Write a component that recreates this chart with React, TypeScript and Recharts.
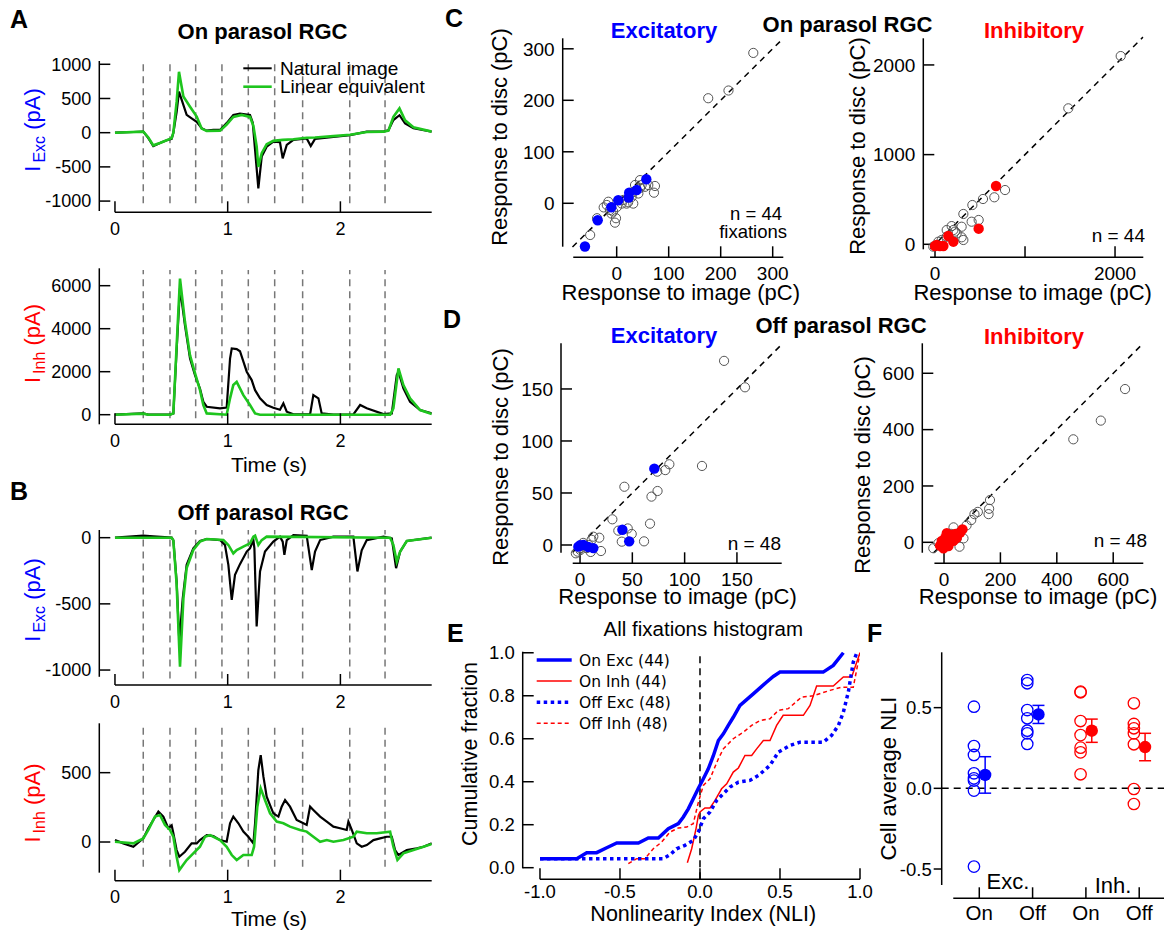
import React from 'react';
import { ComposedChart, Line, Scatter, XAxis, YAxis, ReferenceLine, ErrorBar } from 'recharts';

const W = 1164;
const H = 930;
const FONT = '"Liberation Sans", Arial, Helvetica, sans-serif';
const BLUE = '#0000ff';
const RED = '#ff0000';
const GREEN = '#1ec51e';
const GRAY = '#555555';

type Pt = [number, number];

// ---------- Panels A/B: time traces (t in s, current in pA) ----------
const fixationTimes = [0.251, 0.488, 0.716, 0.949, 1.183, 1.417, 1.665, 2.083, 2.396];
const timeTicks = [0, 1, 2];

const onExcNatural: Pt[] = [
  [0, 0], [0.163, 10], [0.251, 15], [0.296, -80], [0.34, -195], [0.399, -150], [0.459, -110], [0.503, -90],
  [0.518, 0], [0.547, 300], [0.568, 600], [0.592, 480], [0.636, 260], [0.68, 210], [0.725, 160], [0.769, 65],
  [0.814, 30], [0.873, 40], [0.932, 40], [0.991, 140], [1.05, 260], [1.109, 280], [1.198, 260], [1.222, 150],
  [1.243, -250], [1.272, -815], [1.302, -350], [1.346, -205], [1.405, -130], [1.464, -140], [1.488, -375],
  [1.524, -180], [1.583, -105], [1.701, -85], [1.737, -195], [1.775, -90], [1.938, -60], [2.086, -35],
  [2.234, 15], [2.382, 15], [2.426, 35], [2.47, 185], [2.524, 255], [2.574, 135], [2.648, 65], [2.811, 15],
];
const onExcLinear: Pt[] = [
  [0, 0], [0.251, 15], [0.296, -70], [0.34, -185], [0.399, -150], [0.459, -110], [0.503, -80], [0.518, 0],
  [0.547, 450], [0.568, 890], [0.607, 530], [0.666, 380], [0.725, 235], [0.769, 60], [0.814, 25], [0.932, 30],
  [0.991, 120], [1.05, 230], [1.124, 260], [1.198, 230], [1.228, 100], [1.257, -200], [1.272, -500],
  [1.302, -300], [1.346, -170], [1.405, -120], [1.488, -105], [1.583, -95], [1.701, -75], [1.775, -70],
  [1.938, -50], [2.086, -30], [2.234, 10], [2.382, 15], [2.426, 30], [2.47, 230], [2.524, 355], [2.574, 180],
  [2.648, 80], [2.811, 15],
];
const onInhNatural: Pt[] = [
  [0, 0], [0.251, 60], [0.296, 0], [0.488, 0], [0.518, 60], [0.547, 3000], [0.577, 5900], [0.621, 4160],
  [0.666, 2610], [0.71, 1840], [0.754, 1220], [0.784, 600], [0.814, 370], [0.932, 290], [0.991, 330],
  [1.021, 2610], [1.036, 3080], [1.08, 3050], [1.109, 2950], [1.169, 2000], [1.213, 1610], [1.243, 1140],
  [1.287, 760], [1.346, 450], [1.405, 325], [1.464, 230], [1.494, 525], [1.524, 140], [1.583, 15],
  [1.731, 15], [1.76, 910], [1.805, 760], [1.834, 60], [1.938, 0], [2.115, 15], [2.175, 450], [2.234, 300],
  [2.382, 30], [2.456, 60], [2.5, 1840], [2.515, 2000], [2.559, 1220], [2.618, 600], [2.707, 215], [2.811, 60],
];
const onInhLinear: Pt[] = [
  [0, 0], [0.251, 50], [0.296, 0], [0.488, 0], [0.518, 60], [0.547, 3200], [0.577, 6330], [0.621, 4320],
  [0.666, 2760], [0.71, 1930], [0.754, 1150], [0.784, 450], [0.814, 60], [0.991, 0], [1.021, 760],
  [1.05, 1380], [1.08, 1530], [1.139, 910], [1.198, 450], [1.243, 60], [1.287, 0], [2.441, 0], [2.47, 300],
  [2.515, 2150], [2.559, 1380], [2.618, 760], [2.707, 215], [2.811, 30],
];
const offExcNatural: Pt[] = [
  [0, 0], [0.251, 15], [0.34, 10], [0.503, 0], [0.518, -20], [0.547, -330], [0.571, -790], [0.601, -460],
  [0.636, -205], [0.695, -80], [0.754, -25], [0.814, -10], [0.932, -18], [0.976, -55], [1.006, -205],
  [1.036, -470], [1.065, -280], [1.109, -200], [1.169, -105], [1.198, -80], [1.228, -18], [1.237, -80],
  [1.257, -670], [1.287, -255], [1.331, -105], [1.405, -30], [1.464, 8], [1.488, -30], [1.503, -130],
  [1.524, -18], [1.583, 20], [1.701, 15], [1.746, -245], [1.775, -105], [1.82, -18], [1.938, 8], [2.115, 8],
  [2.151, -255], [2.189, -95], [2.234, -18], [2.382, 8], [2.456, -5], [2.494, -230], [2.53, -105],
  [2.589, -25], [2.811, 0],
];
const offExcLinear: Pt[] = [
  [0, 0], [0.503, 0], [0.518, -20], [0.547, -350], [0.577, -975], [0.607, -460], [0.636, -230], [0.695, -93],
  [0.754, -30], [0.814, -10], [0.962, -18], [1.006, -55], [1.05, -118], [1.08, -93], [1.139, -68],
  [1.198, -43], [1.228, 8], [1.243, 15], [1.272, -55], [1.302, -18], [1.346, 8], [2.441, 0], [2.47, -55],
  [2.5, -181], [2.53, -105], [2.589, -25], [2.811, 0],
];
const offInhNatural: Pt[] = [
  [0, 14], [0.074, -10], [0.163, -34], [0.251, 26], [0.296, 99], [0.34, 159], [0.385, 219], [0.429, 183],
  [0.473, 99], [0.503, 120], [0.518, 63], [0.547, -58], [0.571, -106], [0.621, -70], [0.68, -10], [0.725, -10],
  [0.754, 14], [0.814, 50], [0.873, 43], [0.932, 14], [0.991, 2], [1.021, 135], [1.05, 183], [1.095, 135],
  [1.139, 75], [1.183, 38], [1.228, -10], [1.243, 135], [1.272, 519], [1.293, 627], [1.317, 471],
  [1.346, 327], [1.405, 207], [1.45, 183], [1.479, 255], [1.509, 303], [1.553, 255], [1.612, 159],
  [1.672, 135], [1.701, 123], [1.731, 255], [1.76, 231], [1.82, 183], [1.879, 147], [1.938, 111],
  [1.997, 99], [2.056, 87], [2.071, 147], [2.101, 87], [2.145, -10], [2.189, -34], [2.234, -22],
  [2.293, 14], [2.352, 26], [2.411, 38], [2.456, 38], [2.485, -58], [2.515, -94], [2.589, -58],
  [2.678, -46], [2.737, -34], [2.811, -10],
];
const offInhLinear: Pt[] = [
  [0, 2], [0.163, -10], [0.251, 26], [0.296, 87], [0.355, 183], [0.399, 195], [0.444, 123], [0.488, 87],
  [0.518, 38], [0.547, -106], [0.571, -202], [0.636, -130], [0.695, -82], [0.754, -34], [0.799, 38],
  [0.843, 50], [0.932, 14], [0.991, -34], [1.036, -94], [1.08, -130], [1.139, -94], [1.213, -94],
  [1.234, -34], [1.263, 255], [1.293, 387], [1.331, 303], [1.376, 207], [1.435, 147], [1.494, 135],
  [1.553, 111], [1.642, 87], [1.701, 75], [1.76, 38], [1.82, 2], [1.879, 14], [1.938, 2], [2.027, 14],
  [2.115, 38], [2.145, 75], [2.234, 63], [2.322, 63], [2.441, 75], [2.47, -34], [2.506, -130],
  [2.559, -82], [2.648, -58], [2.737, -34], [2.811, -14],
];

// ---------- Panels C/D: response to image (x) vs disc (y), pC ----------
const cExcOther: Pt[] = [
  [262.7, 292], [176, 204], [215, 219], [-51, -61.6], [-37.8, -29], [-1.3, -29], [-3.3, -37.6], [-19, -3.3],
  [-13, -13], [-6.7, -16], [-16, 3], [9.6, -0.6], [19, -0.6], [31.9, -0.6], [28.8, 12.3], [35.3, 35.5],
  [44.9, 45], [48, 35.5], [60.8, 35.5], [73.6, 33.6], [71.7, 20.6], [54.5, 32], [12.8, 6.5], [41.7, 19],
  [0.5, -7], [-10, -20], [22, 2], [32, 22], [45, 30], [-25, -8],
];
const cExcCell: Pt[] = [
  [-61, -84], [-36.5, -33], [-10.3, -7.8], [3, 5.8], [23, 11], [24, 20.6], [38.5, 25.8], [57, 46.6],
];
const cInhOther: Pt[] = [
  [2063, 2099], [1481, 1516], [778, 605], [659, 524], [533, 505], [415, 438], [315, 338], [407, 252],
  [485, 271], [296, 196], [185, 203], [204, 159], [130, 159], [241, 122], [296, 78], [315, 48], [130, 85],
  [37, 29], [-19, -26], [74, 48], [222, 141],
];
const cInhCell: Pt[] = [
  [678, 650], [485, 174], [204, 29], [148, 92], [93, -19], [18, -8], [55, -19], [0, -19],
];
const dExcOther: Pt[] = [
  [137.7, 177], [157.7, 151.6], [116.6, 76], [85.4, 77.6], [81.5, 72], [73.8, 70.5], [74.1, 51.9],
  [68.3, 46.5], [42.4, 56], [66.9, 20.5], [30.9, 24.7], [36.6, 13.8], [45.6, 15.9], [49.4, 10.6],
  [39.9, 3.2], [61.2, 3.5], [18.4, 7], [20, -5.8], [11.1, 5], [12.7, 8], [-2.3, -6.4], [0.3, -4.8],
  [10.2, -6.7], [6.4, -3], [0.2, -3], [-4, -8], [3, 2], [8, 0],
];
const dExcCell: Pt[] = [
  [71, 73.4], [40.5, 14.7], [47, 3.5], [0, -0.3], [3.2, 0], [8, -2], [12.7, -3], [-1.6, -1.6],
];
const dInhOther: Pt[] = [
  [642, 544], [556, 432], [458.5, 365.6], [163, 150], [160, 119], [158, 100], [120, 108], [108, 100],
  [96.5, 79], [33.7, 53], [69, 14], [54.9, -15.6], [-38, -21], [-20, -3], [15.6, 8.6], [45, 14], [25, 30],
  [80, 60],
];
const dInhCell: Pt[] = [
  [65.6, 46], [57.4, 35], [45.4, 16], [27.6, 26], [9.9, 32], [4, 16], [-8, 5], [-2, -21], [15.6, -13],
  [33.3, 5], [-14, -12], [20, 10], [40, 30],
];

// ---------- Panel E: cumulative NLI ----------
const eOnExc: Pt[] = [
  [-1.0, 0.042], [-0.77, 0.042], [-0.708, 0.07], [-0.646, 0.07], [-0.583, 0.093], [-0.52, 0.115],
  [-0.385, 0.115], [-0.323, 0.138], [-0.26, 0.138], [-0.198, 0.181], [-0.135, 0.205], [-0.104, 0.236],
  [-0.073, 0.274], [-0.042, 0.321], [-0.01, 0.37], [0.021, 0.414], [0.052, 0.46], [0.083, 0.52],
  [0.115, 0.592], [0.146, 0.623], [0.177, 0.662], [0.208, 0.7], [0.25, 0.755], [0.333, 0.809],
  [0.417, 0.864], [0.458, 0.89], [0.5, 0.91], [0.77, 0.91], [0.833, 0.941], [0.896, 1.0],
];
const eOnInh: Pt[] = [
  [-0.079, 0.023], [-0.052, 0.088], [-0.025, 0.181], [-0.01, 0.243], [0.0, 0.259], [0.031, 0.278],
  [0.0625, 0.278], [0.094, 0.313], [0.135, 0.367], [0.167, 0.39], [0.208, 0.445], [0.24, 0.464],
  [0.281, 0.522], [0.323, 0.522], [0.354, 0.553], [0.396, 0.592], [0.4375, 0.592], [0.479, 0.662],
  [0.52, 0.709], [0.646, 0.709], [0.6875, 0.755], [0.729, 0.845], [0.833, 0.845], [0.896, 0.887],
  [0.948, 0.887], [1.0, 1.0],
];
const eOffExc: Pt[] = [
  [-1.0, 0.042], [-0.229, 0.042], [-0.1875, 0.06], [-0.146, 0.088], [-0.094, 0.104], [-0.042, 0.127],
  [-0.01, 0.166], [0.021, 0.228], [0.0625, 0.259], [0.104, 0.313], [0.146, 0.344], [0.1875, 0.375],
  [0.24, 0.398], [0.3125, 0.406], [0.365, 0.429], [0.4375, 0.476], [0.49, 0.538], [0.5625, 0.569],
  [0.625, 0.584], [0.77, 0.584], [0.823, 0.616], [0.865, 0.662], [0.896, 0.724], [0.927, 0.817],
  [0.958, 0.957], [0.98, 1.0],
];
const eOffInh: Pt[] = [
  [-0.448, 0.019], [-0.396, 0.042], [-0.344, 0.042], [-0.292, 0.088], [-0.24, 0.119], [-0.1875, 0.166],
  [-0.135, 0.185], [-0.083, 0.189], [-0.042, 0.205], [-0.01, 0.305], [0.021, 0.383], [0.0625, 0.414],
  [0.115, 0.507], [0.146, 0.553], [0.208, 0.6], [0.271, 0.631], [0.323, 0.662], [0.375, 0.685],
  [0.4375, 0.693], [0.49, 0.732], [0.552, 0.74], [0.635, 0.794], [0.708, 0.8], [0.8125, 0.825],
  [0.885, 0.84], [0.958, 0.84], [1.0, 1.0],
];
const eTicks = [-1, -0.5, 0, 0.5, 1];
const eYTicks = [0, 0.2, 0.4, 0.6, 0.8, 1.0];

// ---------- Panel F: cell average NLI ----------
const fLabels = ['On', 'Off', 'On', 'Off'];
const fOnExcCells = [0.506, 0.262, 0.207, 0.093, 0.062, 0.048, -0.014, -0.485];
const fOffExcCells = [0.671, 0.651, 0.485, 0.434, 0.357, 0.341, 0.275];
const fOnInhCells = [0.599, 0.595, 0.417, 0.33, 0.252, 0.223, 0.087];
const fOffInhCells = [0.527, 0.399, 0.372, 0.341, 0.273, -0.004, -0.097];
const fMeans = [0.083, 0.458, 0.357, 0.256];
const fSem = [0.113, 0.056, 0.072, 0.085];
const CELL_DX = -0.1;
const MEAN_DX = 0.11;

// ---------- helpers ----------
const toXY = (a: Pt[]) => a.map(([x, y]) => ({ x, y }));
const ring = (r: number, color: string, sw: number) => (p: any) =>
  <circle cx={p.cx} cy={p.cy} r={r} fill="none" stroke={color} strokeWidth={sw} />;
const disc = (r: number, color: string) => (p: any) =>
  <circle cx={p.cx} cy={p.cy} r={r} fill={color} stroke="none" />;

type Box = { l: number; r: number; t: number; b: number };
type PlotProps = {
  box: Box;
  xd: [number, number];
  yd: [number, number];
  xv: [number, number];
  yv: [number, number];
  xt: number[];
  yt: number[];
  xf?: (v: number) => string;
  yf?: (v: number) => string;
  font: number;
  xFont?: number;
  xGap?: number;
  yOut?: boolean;
  children?: React.ReactNode;
};

function Plot(p: PlotProps) {
  const tickStyle = { fontSize: p.font, fontFamily: FONT, fill: '#000' };
  const xTickStyle = { fontSize: p.xFont ?? p.font, fontFamily: FONT, fill: '#000' };
  const gap = p.xGap ?? 9;
  return (
    <div style={{ position: 'absolute', left: 0, top: 0, width: W, height: H }}>
      <ComposedChart
        width={W}
        height={H}
        margin={{ left: p.box.l - 1, right: W - p.box.r, top: p.box.t, bottom: H - p.box.b - 1 }}
      >
        <XAxis
          type="number"
          dataKey="x"
          domain={p.xd}
          allowDataOverflow
          ticks={p.xt}
          interval={0}
          tickFormatter={p.xf ?? ((v: number) => String(v))}
          height={1}
          axisLine={false}
          stroke="#000"
          tickLine={{ stroke: '#000', strokeWidth: 1.5 }}
          tickSize={-11}
          tickMargin={11 + gap}
          tick={xTickStyle}
        />
        <YAxis
          type="number"
          dataKey="y"
          domain={p.yd}
          allowDataOverflow
          ticks={p.yt}
          interval={0}
          tickFormatter={p.yf ?? ((v: number) => String(v))}
          width={1}
          axisLine={false}
          stroke="#000"
          tickLine={{ stroke: '#000', strokeWidth: 1.5 }}
          tickSize={p.yOut ? 8 : -11}
          tickMargin={p.yOut ? 2 : 19}
          tick={tickStyle}
        />
        <ReferenceLine
          segment={[{ x: p.xv[0], y: p.yd[0] }, { x: p.xv[1], y: p.yd[0] }]}
          stroke="#000"
          strokeWidth={1.5}
          ifOverflow="visible"
        />
        <ReferenceLine
          segment={[{ x: p.xd[0], y: p.yv[0] }, { x: p.xd[0], y: p.yv[1] }]}
          stroke="#000"
          strokeWidth={1.5}
          ifOverflow="visible"
        />
        {p.children}
      </ComposedChart>
    </div>
  );
}

function fixLines(lo: number, hi: number) {
  return fixationTimes.map((t) => (
    <ReferenceLine
      key={'f' + t}
      segment={[{ x: t, y: lo }, { x: t, y: hi }]}
      stroke="#777"
      strokeWidth={1.5}
      strokeDasharray="7 5"
      ifOverflow="visible"
    />
  ));
}

function traceLines(nat: Pt[], lin: Pt[]) {
  return [
    <Line key="nat" data={toXY(nat)} dataKey="y" type="linear" stroke="#000" strokeWidth={2.2}
      dot={false} activeDot={false} isAnimationActive={false} />,
    <Line key="lin" data={toXY(lin)} dataKey="y" type="linear" stroke={GREEN} strokeWidth={2.6}
      dot={false} activeDot={false} isAnimationActive={false} />,
  ];
}

function diag(lo: number, hi: number) {
  return (
    <ReferenceLine
      key="diag"
      segment={[{ x: lo, y: lo }, { x: hi, y: hi }]}
      stroke="#000"
      strokeWidth={1.5}
      strokeDasharray="6 5"
      ifOverflow="visible"
    />
  );
}

function scatterPair(other: Pt[], cell: Pt[], color: string) {
  return [
    <Scatter key="o" data={toXY(other)} shape={ring(4.6, GRAY, 1)} isAnimationActive={false} />,
    <Scatter key="c" data={toXY(cell)} shape={disc(5.2, color)} isAnimationActive={false} />,
  ];
}

const AB_BOX_X = { l: 99.3, r: 431.7 };
const AB_XD: [number, number] = [-0.139, 2.81];
const AB_XV: [number, number] = [0, 2.81];

function ILabel({ x, y, sub, color }: { x: number; y: number; sub: string; color: string }) {
  return (
    <text transform={`translate(${x},${y}) rotate(-90)`} textAnchor="middle" fill={color} fontSize={22} fontFamily={FONT}>
      <tspan>I</tspan>
      <tspan fontSize={16} dx={3} dy={5}>{sub}</tspan>
      <tspan dy={-5}> (pA)</tspan>
    </text>
  );
}

function T(props: any) {
  const { children, ...rest } = props;
  return (
    <text fontFamily={FONT} fill="#000" {...rest}>
      {children}
    </text>
  );
}

function RotT({ x, y, size, children }: { x: number; y: number; size: number; children: React.ReactNode }) {
  return (
    <text transform={`translate(${x},${y}) rotate(-90)`} textAnchor="middle" fontSize={size} fontFamily={FONT} fill="#000">
      {children}
    </text>
  );
}

export default function App() {
  const fCells = [fOnExcCells, fOffExcCells, fOnInhCells, fOffInhCells];
  const fColors = [BLUE, BLUE, RED, RED];
  const fOpen = fCells.map((cells, i) => cells.map((y) => ({ x: i + CELL_DX, y })));
  const fMeanPts = fMeans.map((y, i) => ({ x: i + MEAN_DX, y, e: fSem[i] }));
  const fmt1 = (v: number) => v.toFixed(1);

  return (
    <div style={{ position: 'absolute', left: 0, top: 0, width: W, height: H, background: '#fff', overflow: 'hidden' }}>
      {/* A top: On Exc */}
      <Plot box={{ ...AB_BOX_X, t: 61, b: 212.3 }} xd={AB_XD} yd={[-1164, 1048]} xv={AB_XV} yv={[-1145, 1048]}
        xt={timeTicks} yt={[-1000, -500, 0, 500, 1000]} font={18} xGap={10}>
        {fixLines(-1030, 1050)}
        {traceLines(onExcNatural, onExcLinear)}
      </Plot>
      {/* A bottom: On Inh */}
      <Plot box={{ ...AB_BOX_X, t: 268.3, b: 424.3 }} xd={AB_XD} yd={[-447, 6809]} xv={AB_XV} yv={[-447, 6809]}
        xt={timeTicks} yt={[0, 2000, 4000, 6000]} font={18} xGap={10}>
        {fixLines(-170, 6730)}
        {traceLines(onInhNatural, onInhLinear)}
      </Plot>
      {/* B top: Off Exc */}
      <Plot box={{ ...AB_BOX_X, t: 530, b: 685 }} xd={AB_XD} yd={[-1113, 58]} xv={AB_XV} yv={[-1051, 58]}
        xt={timeTicks} yt={[-1000, -500, 0]} font={18} xGap={10}>
        {fixLines(-1063, 58)}
        {traceLines(offExcNatural, offExcLinear)}
      </Plot>
      {/* B bottom: Off Inh */}
      <Plot box={{ ...AB_BOX_X, t: 723.3, b: 880.7 }} xd={AB_XD} yd={[-279, 856]} xv={AB_XV} yv={[-221, 856]}
        xt={timeTicks} yt={[0, 500]} font={18} xGap={10}>
        {fixLines(-178, 856)}
        {traceLines(offInhNatural, offInhLinear)}
      </Plot>

      {/* C left */}
      <Plot box={{ l: 562.7, r: 783.3, t: 38.3, b: 257.3 }} xd={[-103.8, 320.4]} yd={[-104.9, 320.4]}
        xv={[-83.5, 320.4]} yv={[-84.3, 320.4]} xt={[0, 100, 200, 300]} yt={[0, 100, 200, 300]} font={19}>
        {diag(-85, 320)}
        {scatterPair(cExcOther, cExcCell, BLUE)}
      </Plot>
      {/* C right */}
      <Plot box={{ l: 923.3, r: 1143.3, t: 38.3, b: 257.3 }} xd={[-130, 2314]} yd={[-145, 2297]}
        xv={[-55, 2314]} yv={[-56, 2297]} xt={[0, 1000, 2000]} yt={[0, 1000, 2000]}
        xf={(v: number) => (v === 1000 ? '' : String(v))} font={19}>
        {diag(-50, 2310)}
        {scatterPair(cInhOther, cInhCell, RED)}
      </Plot>
      {/* D left */}
      <Plot box={{ l: 561, r: 781.7, t: 343.3, b: 563.3 }} xd={[-18.2, 192.8]} yd={[-17.6, 193.9]}
        xv={[-7, 192.8]} yv={[-7.4, 193.9]} xt={[0, 50, 100, 150]} yt={[0, 50, 100, 150]} font={19}>
        {diag(-7, 193)}
        {scatterPair(dExcOther, dExcCell, BLUE)}
      </Plot>
      {/* D right */}
      <Plot box={{ l: 922.3, r: 1143.3, t: 343.3, b: 563.3 }} xd={[-77, 706.7]} yd={[-74.5, 706.4]}
        xv={[-34, 706.7]} yv={[-37, 706.4]} xt={[0, 200, 400, 600]} yt={[0, 200, 400, 600]} font={19}>
        {diag(-37, 706)}
        {scatterPair(dInhOther, dInhCell, RED)}
      </Plot>

      {/* E */}
      <Plot box={{ l: 522.7, r: 860, t: 651.7, b: 879.3 }} xd={[-1.108, 1.0]} yd={[-0.054, 1.005]}
        xv={[-1, 1]} yv={[-0.003, 1.005]} xt={eTicks} yt={eYTicks} xf={fmt1} yf={fmt1} font={18.5} xGap={6}>
        <ReferenceLine segment={[{ x: 0, y: -0.054 }, { x: 0, y: 0.99 }]} stroke="#000" strokeWidth={1.5}
          strokeDasharray="7 5" ifOverflow="visible" />
        <Line data={toXY(eOnExc)} dataKey="y" stroke={BLUE} strokeWidth={3.5} dot={false} activeDot={false}
          isAnimationActive={false} type="linear" />
        <Line data={toXY(eOnInh)} dataKey="y" stroke={RED} strokeWidth={1.5} dot={false} activeDot={false}
          isAnimationActive={false} type="linear" />
        <Line data={toXY(eOffExc)} dataKey="y" stroke={BLUE} strokeWidth={3.5} strokeDasharray="3.5 3.5" dot={false}
          activeDot={false} isAnimationActive={false} type="linear" />
        <Line data={toXY(eOffInh)} dataKey="y" stroke={RED} strokeWidth={1.5} strokeDasharray="4 3" dot={false}
          activeDot={false} isAnimationActive={false} type="linear" />
      </Plot>

      {/* F */}
      <Plot box={{ l: 941.7, r: 1164, t: 652.3, b: 898.3 }} xd={[-0.705, 3.465]} yd={[-0.6815, 0.843]}
        xv={[-0.488, 3.465]} yv={[-0.599, 0.843]} xt={[0, 1, 2, 3]} yt={[-0.5, 0, 0.5]}
        xf={(v: number) => fLabels[v] ?? ''} yf={fmt1} font={18.5} xFont={20.5} xGap={7} yOut>
        <ReferenceLine segment={[{ x: -0.705, y: 0 }, { x: 3.465, y: 0 }]} stroke="#000" strokeWidth={1.5}
          strokeDasharray="7 5" ifOverflow="visible" />
        {fOpen.map((pts, i) => (
          <Scatter key={'fo' + i} data={pts} shape={ring(5.7, fColors[i], 1.3)} isAnimationActive={false} />
        ))}
        <Scatter data={fMeanPts.slice(0, 2)} shape={disc(6.2, BLUE)} isAnimationActive={false}>
          <ErrorBar dataKey="e" direction="y" width={6} stroke={BLUE} strokeWidth={1.5} />
        </Scatter>
        <Scatter data={fMeanPts.slice(2)} shape={disc(6.2, RED)} isAnimationActive={false}>
          <ErrorBar dataKey="e" direction="y" width={6} stroke={RED} strokeWidth={1.5} />
        </Scatter>
      </Plot>

      {/* text overlay */}
      <svg width={W} height={H} style={{ position: 'absolute', left: 0, top: 0, pointerEvents: 'none' }}>
        {/* panel letters */}
        <T x={10} y={28} fontSize={25} fontWeight="bold">A</T>
        <T x={10} y={500} fontSize={25} fontWeight="bold">B</T>
        <T x={445} y={27} fontSize={25} fontWeight="bold">C</T>
        <T x={443} y={328} fontSize={25} fontWeight="bold">D</T>
        <T x={447} y={642} fontSize={25} fontWeight="bold">E</T>
        <T x={867} y={642} fontSize={25} fontWeight="bold">F</T>

        {/* A / B */}
        <T x={262.5} y={39} fontSize={22} fontWeight="bold" textAnchor="middle">On parasol RGC</T>
        <T x={263} y={519.5} fontSize={22} fontWeight="bold" textAnchor="middle">Off parasol RGC</T>
        <line x1={243.3} x2={271.7} y1={68.3} y2={68.3} stroke="#000" strokeWidth={2} />
        <line x1={243.3} x2={271.7} y1={86.7} y2={86.7} stroke={GREEN} strokeWidth={2.6} />
        <T x={280} y={74.5} fontSize={19}>Natural image</T>
        <T x={280} y={93} fontSize={19}>Linear equivalent</T>
        <ILabel x={40} y={130} sub="Exc" color={BLUE} />
        <ILabel x={40} y={343.5} sub="Inh" color={RED} />
        <ILabel x={40} y={600} sub="Exc" color={BLUE} />
        <ILabel x={40} y={803} sub="Inh" color={RED} />
        <T x={269} y={472} fontSize={21} textAnchor="middle">Time (s)</T>
        <T x={269} y={926} fontSize={21} textAnchor="middle">Time (s)</T>

        {/* C */}
        <T x={847.5} y={32} fontSize={22} fontWeight="bold" textAnchor="middle">On parasol RGC</T>
        <T x={664} y={38} fontSize={22} fontWeight="bold" textAnchor="middle" fill={BLUE}>Excitatory</T>
        <T x={1034} y={37.5} fontSize={22} fontWeight="bold" textAnchor="middle" fill={RED}>Inhibitory</T>
        <RotT x={507} y={137} size={22}>Response to disc (pC)</RotT>
        <RotT x={865} y={146} size={22}>Response to disc (pC)</RotT>
        <T x={680.8} y={300} fontSize={22} textAnchor="middle">Response to image (pC)</T>
        <T x={1032.7} y={300} fontSize={22} textAnchor="middle">Response to image (pC)</T>
        <T x={782} y={220} fontSize={18.5} textAnchor="end">n = 44</T>
        <T x={787} y={238} fontSize={18.5} textAnchor="end">fixations</T>
        <T x={1145} y={242} fontSize={19} textAnchor="end">n = 44</T>

        {/* D */}
        <T x={841} y={332.5} fontSize={22} fontWeight="bold" textAnchor="middle">Off parasol RGC</T>
        <T x={664} y={342.5} fontSize={22} fontWeight="bold" textAnchor="middle" fill={BLUE}>Excitatory</T>
        <T x={1034} y={344} fontSize={22} fontWeight="bold" textAnchor="middle" fill={RED}>Inhibitory</T>
        <RotT x={508} y={457} size={22}>Response to disc (pC)</RotT>
        <RotT x={870} y={465} size={22}>Response to disc (pC)</RotT>
        <T x={677.5} y={604} fontSize={22} textAnchor="middle">Response to image (pC)</T>
        <T x={1038} y={604} fontSize={22} textAnchor="middle">Response to image (pC)</T>
        <T x={781} y={550} fontSize={19} textAnchor="end">n = 48</T>
        <T x={1147} y={547} fontSize={19} textAnchor="end">n = 48</T>

        {/* E */}
        <T x={703.3} y={636} fontSize={20.5} textAnchor="middle">All fixations histogram</T>
        <RotT x={477} y={754} size={21.5}>Cumulative fraction</RotT>
        <T x={703.3} y={921} fontSize={21.5} textAnchor="middle">Nonlinearity Index (NLI)</T>
        <line x1={536.7} x2={571.7} y1={660} y2={660} stroke={BLUE} strokeWidth={3.5} />
        <line x1={536.7} x2={571.7} y1={681} y2={681} stroke={RED} strokeWidth={1.5} />
        <line x1={536.7} x2={571.7} y1={702.3} y2={702.3} stroke={BLUE} strokeWidth={3.5} strokeDasharray="3.5 3.5" />
        <line x1={536.7} x2={571.7} y1={723.3} y2={723.3} stroke={RED} strokeWidth={1.5} strokeDasharray="4 3" />
        <text x={579} y={665.5} fontSize={15.5} fontFamily='"DejaVu Sans", Verdana, sans-serif' fill="#000">On Exc (44)</text>
        <text x={579} y={686.5} fontSize={15.5} fontFamily='"DejaVu Sans", Verdana, sans-serif' fill="#000">On Inh (44)</text>
        <text x={579} y={708} fontSize={15.5} fontFamily='"DejaVu Sans", Verdana, sans-serif' fill="#000">Off Exc (48)</text>
        <text x={579} y={729} fontSize={15.5} fontFamily='"DejaVu Sans", Verdana, sans-serif' fill="#000">Off Inh (48)</text>

        {/* F */}
        <RotT x={896} y={778.5} size={22}>Cell average NLI</RotT>
        <T x={1008} y={889} fontSize={22} textAnchor="middle">Exc.</T>
        <T x={1113} y={893} fontSize={22} textAnchor="middle">Inh.</T>
      </svg>
    </div>
  );
}
